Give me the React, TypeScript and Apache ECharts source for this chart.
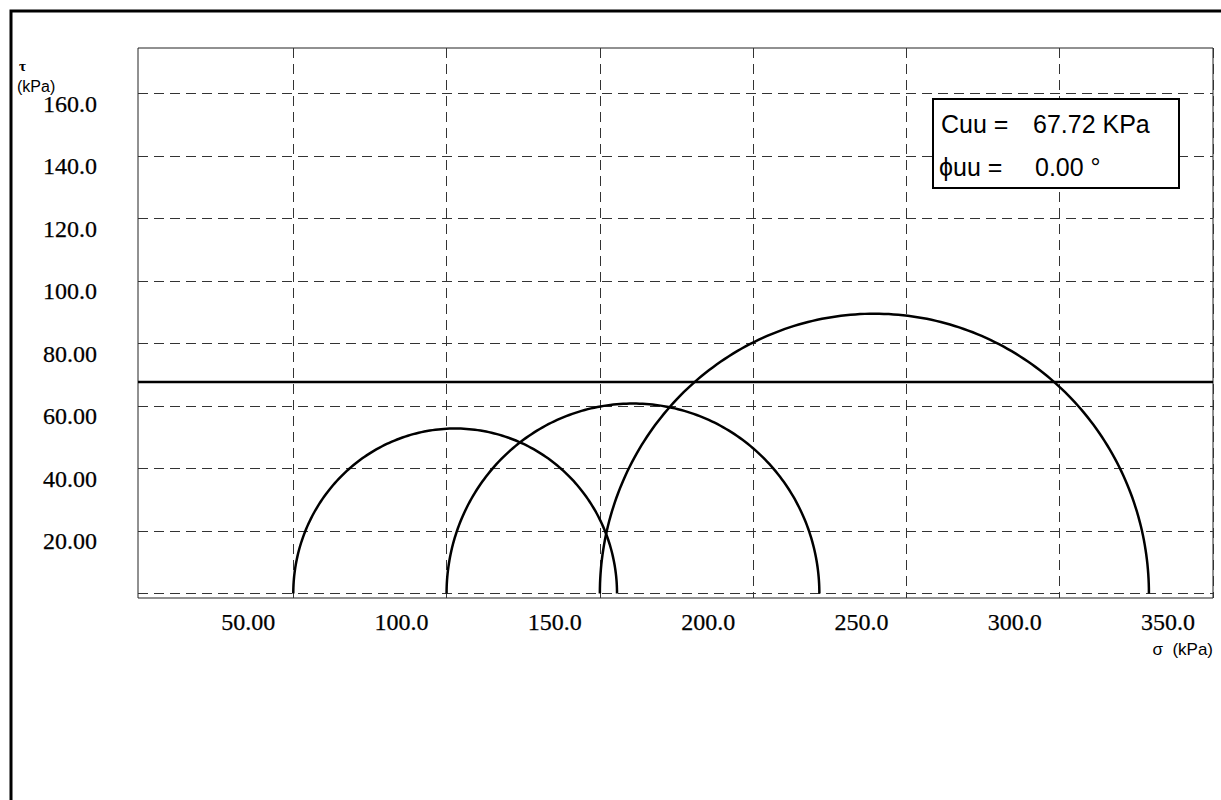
import React, { useEffect, useRef } from "react";
import * as echarts from "echarts";

// Mohr circles: minor and major principal stresses (kPa)
const sigma3 = [50, 100, 150];
const sigma1 = [155.6, 221.6, 329.1];
// Undrained strength envelope
const cuu = 67.72;
const phiuu = 0.0;

const xMin = -0.65;
const xMax = 350;
const yMin = -1.45;
const yMax = 174.6;

const xTickValues = [50, 100, 150, 200, 250, 300, 350];
const xTickLabels = ["50.00", "100.0", "150.0", "200.0", "250.0", "300.0", "350.0"];
const yTickValues = [0, 20, 40, 60, 80, 100, 120, 140, 160];
const yTickLabels = ["", "20.00", "40.00", "60.00", "80.00", "100.0", "120.0", "140.0", "160.0"];

const serif = "'Liberation Serif', 'Times New Roman', serif";
const sans = "'Liberation Sans', Arial, sans-serif";

export default function App() {
  const ref = useRef<HTMLDivElement>(null);

  useEffect(() => {
    if (!ref.current) return;
    const chart = echarts.init(ref.current, undefined, { renderer: "svg" });
    const gridStyle = { color: "#333", width: 1, type: [10, 6] as any };

    const option: any = {
      animation: false,
      backgroundColor: "#fff",
      grid: {
        left: 138,
        right: 8,
        top: 48,
        height: 550,
        show: true,
        borderColor: "#222",
        borderWidth: 1,
        backgroundColor: "transparent",
      },
      xAxis: {
        type: "value",
        min: xMin,
        max: xMax,
        axisLine: { show: false },
        axisTick: { show: false, customValues: xTickValues },
        splitLine: { show: true, lineStyle: gridStyle },
        axisLabel: {
          customValues: xTickValues,
          formatter: (v: number) => xTickLabels[xTickValues.indexOf(v)] ?? "",
          fontFamily: serif,
          fontSize: 24,
          color: "#000",
          textBorderColor: "#000",
          textBorderWidth: 0.25,
          margin: 12,
          padding: [0, 90, 0, 0],
        },
      },
      yAxis: {
        type: "value",
        min: yMin,
        max: yMax,
        axisLine: { show: false },
        axisTick: { show: false, customValues: yTickValues },
        splitLine: { show: true, lineStyle: gridStyle },
        axisLabel: {
          customValues: yTickValues,
          formatter: (v: number) => yTickLabels[yTickValues.indexOf(v)] ?? "",
          fontFamily: serif,
          fontSize: 24,
          color: "#000",
          textBorderColor: "#000",
          textBorderWidth: 0.25,
          margin: 41,
          verticalAlign: "top",
          lineHeight: 20,
        },
      },
      series: [
        {
          type: "custom",
          data: sigma3.map((s3, i) => [s3, sigma1[i]]),
          clip: true,
          renderItem: (params: any, api: any) => {
            const s3 = api.value(0);
            const s1 = api.value(1);
            const c = (s3 + s1) / 2;
            const r = (s1 - s3) / 2;
            const pts: number[][] = [];
            for (let k = 0; k <= 180; k++) {
              const a = (Math.PI * k) / 180;
              pts.push(api.coord([c - r * Math.cos(a), r * Math.sin(a)]));
            }
            return {
              type: "polyline",
              shape: { points: pts },
              style: { stroke: "#000", lineWidth: 2.5, fill: "none" },
            };
          },
        },
        {
          type: "line",
          data: [
            [xMin, cuu],
            [xMax, cuu],
          ],
          showSymbol: false,
          lineStyle: { color: "#000", width: 2.5 },
        },
      ],
      graphic: [
        {
          type: "polyline",
          shape: { points: [[11, 800], [11, 11], [1221, 11]] },
          style: { stroke: "#000", lineWidth: 3, fill: "none" },
        },
        {
          type: "text",
          left: 19,
          top: 58,
          style: { text: "τ", font: `bold 15px ${serif}`, fill: "#000" },
        },
        {
          type: "text",
          left: 17,
          top: 78,
          style: { text: "(kPa)", font: `16px ${sans}`, fill: "#000" },
        },
        {
          type: "text",
          right: 8,
          top: 641,
          style: { text: "σ  (kPa)", font: `17px ${sans}`, fill: "#000" },
        },
        {
          type: "rect",
          shape: { x: 933, y: 99, width: 246, height: 89 },
          style: { fill: "#fff", stroke: "#000", lineWidth: 2 },
          z: 100,
        },
        {
          type: "text",
          x: 941,
          y: 124,
          z: 101,
          style: { text: "Cuu =", font: `25px ${sans}`, fill: "#000", verticalAlign: "middle" },
        },
        {
          type: "text",
          x: 1033,
          y: 124,
          z: 101,
          style: { text: `${cuu.toFixed(2)} KPa`, font: `25px ${sans}`, fill: "#000", verticalAlign: "middle" },
        },
        {
          type: "text",
          x: 939,
          y: 167,
          z: 101,
          style: { text: "ϕuu =", font: `25px ${sans}`, fill: "#000", verticalAlign: "middle" },
        },
        {
          type: "text",
          x: 1035,
          y: 167,
          z: 101,
          style: { text: `${phiuu.toFixed(2)} °`, font: `25px ${sans}`, fill: "#000", verticalAlign: "middle" },
        },
      ],
    };
    chart.setOption(option);
    return () => chart.dispose();
  }, []);

  return (
    <div
      ref={ref}
      style={{ position: "fixed", left: 0, top: 0, width: 1221, height: 800 }}
    />
  );
}
